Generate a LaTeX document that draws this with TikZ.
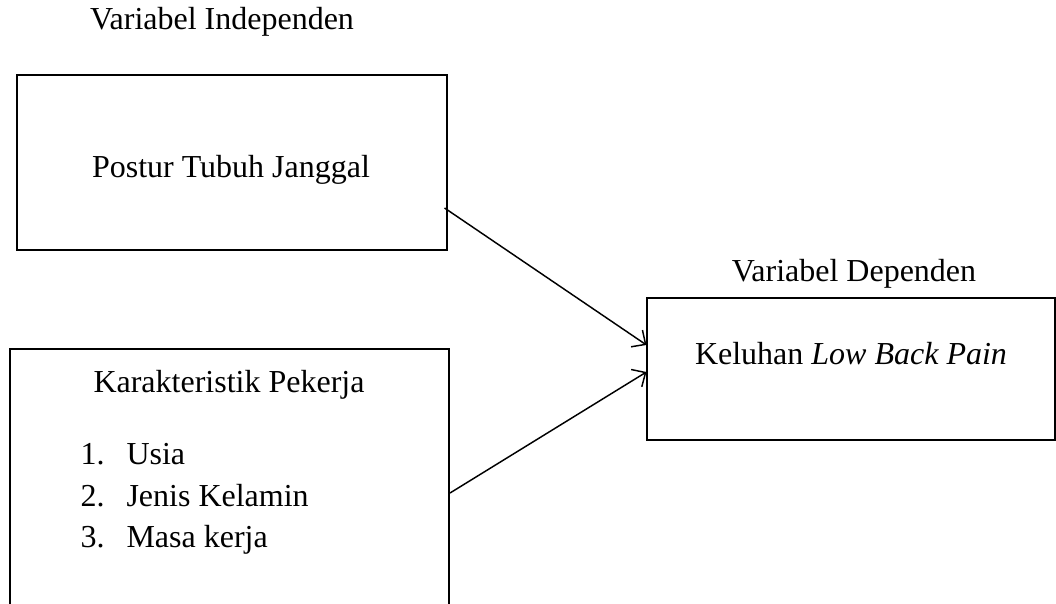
\documentclass[tikz,border=0pt]{standalone}
\usepackage{fontspec}
\setmainfont{Liberation Serif}
\usetikzlibrary{arrows.meta,calc}
\def\px{*0.375pt}
\tikzset{
	kotak/.style={draw, line width=0.4pt, inner sep=0pt},
	teks/.style={font=\fontsize{12}{14.4}\selectfont, inner sep=0pt, anchor=base},
	panah/.style={line width=0.55pt, -{Straight Barb[length=4pt, width=7.6pt, line width=0.55pt]}}
}

\begin{document}
\begin{tikzpicture}[x=0.375pt, y=-0.375pt]
			%%%%% START %%%%%
			
			\clip (0, 0) rectangle (1056, 604);
			
			\node[teks] (judulind) at (222, 30) {Variabel Independen};
			
			\node[kotak, minimum width=430\px, minimum height=175\px] (postur) at (232, 162.5) {};
			\node[teks] (posturtxt) at (231, 178) {Postur Tubuh Janggal};
			
			\node[kotak, minimum width=439\px, minimum height=300\px] (karakter) at (229.5, 499) {};
			\node[teks] (karaktertxt) at (229, 393) {Karakteristik Pekerja};
			\renewcommand{\arraystretch}{1.08}
			\node[teks, anchor=base west] (daftar) at (80, 465) {\begin{tabular}[t]{@{}p{17.25pt}@{}l@{}}1. & Usia\\ 2. & Jenis Kelamin\\ 3. & Masa kerja\end{tabular}};
			
			\node[teks] (judulde) at (854, 282) {Variabel Dependen};
			\node[kotak, minimum width=408\px, minimum height=142\px] (keluhan) at (851, 369) {};
			\node[teks] (keluhantxt) at (851, 365) {Keluhan \textit{Low Back Pain}};
			
			\draw[panah] ($(postur.east)+(-3, 45.5)$) -- ($(keluhan.west)+(0, -24)$);
			\draw[panah] ($(karakter.east)+(0.5, -6)$) -- ($(keluhan.west)+(0, 3)$);
			
			%%%%% END %%%%%
\end{tikzpicture}
\end{document}
